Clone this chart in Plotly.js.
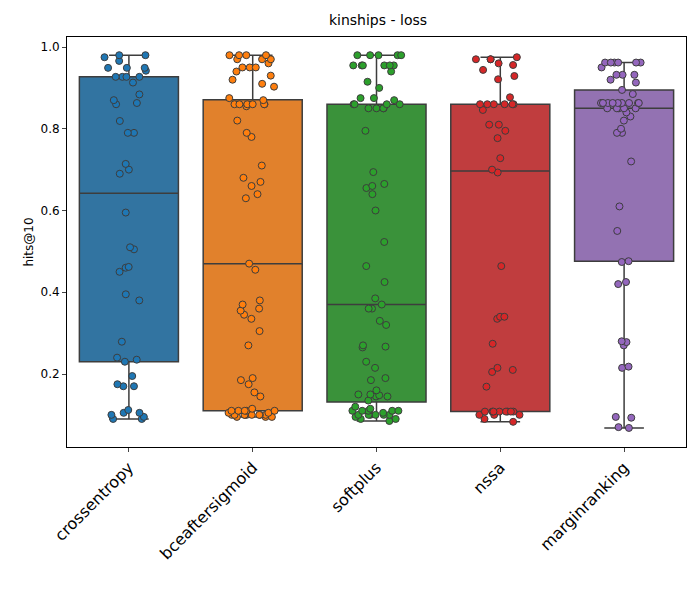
<!DOCTYPE html>
<html>
<head>
<meta charset="utf-8">
<script src="https://cdn.plot.ly/plotly-3.0.1.min.js"></script>
<style>body{margin:0;background:#fff}#chart{width:700px;height:600px}</style>
</head>
<body>
<div id="chart"></div>
<script>
const losses = ['crossentropy', 'bceaftersigmoid', 'softplus', 'nssa', 'marginranking'];
const crossentropy = [0.98, 0.975, 0.98, 0.966, 0.949, 0.949, 0.949, 0.942, 0.927, 0.927, 0.927, 0.927, 0.913,
    0.884, 0.87, 0.863, 0.86, 0.819, 0.79, 0.79, 0.714, 0.70, 0.69, 0.595, 0.51, 0.505, 0.462, 0.46, 0.45,
    0.395, 0.38, 0.279, 0.24, 0.235, 0.23, 0.195, 0.175, 0.17, 0.17, 0.112, 0.105, 0.105, 0.1, 0.095, 0.09, 0.09];
const bceaftersigmoid = [0.98, 0.98, 0.98, 0.98, 0.97, 0.97, 0.97, 0.96, 0.95, 0.95, 0.95, 0.94, 0.93, 0.92, 0.91,
    0.903, 0.875, 0.87, 0.86, 0.86, 0.86, 0.86, 0.86, 0.86, 0.855, 0.82, 0.79, 0.78, 0.71, 0.68, 0.67, 0.66,
    0.64, 0.63, 0.47, 0.455, 0.38, 0.37, 0.36, 0.355, 0.345, 0.335, 0.305, 0.27, 0.19, 0.185, 0.175, 0.155,
    0.145, 0.115, 0.11, 0.11, 0.11, 0.11, 0.11, 0.105, 0.105, 0.1, 0.1, 0.1, 0.1, 0.1, 0.1, 0.1, 0.1, 0.1,
    0.095, 0.095, 0.095];
const softplus = [0.98, 0.98, 0.98, 0.98, 0.98, 0.955, 0.955, 0.955, 0.955, 0.955, 0.955, 0.94, 0.915, 0.90,
    0.875, 0.875, 0.87, 0.86, 0.86, 0.86, 0.86, 0.85, 0.85, 0.85, 0.85, 0.795, 0.694, 0.665, 0.66, 0.655, 0.64,
    0.60, 0.523, 0.464, 0.425, 0.385, 0.37, 0.36, 0.36, 0.33, 0.32, 0.27, 0.267, 0.265, 0.23, 0.215, 0.19,
    0.185, 0.16, 0.15, 0.15, 0.148, 0.145, 0.145, 0.135, 0.12, 0.115, 0.11, 0.11, 0.11, 0.11, 0.11, 0.105,
    0.1, 0.1, 0.1, 0.1, 0.1, 0.1, 0.095, 0.09, 0.09, 0.085];
const nssa = [0.975, 0.97, 0.97, 0.97, 0.956, 0.96, 0.944, 0.929, 0.921, 0.877, 0.86, 0.86, 0.86, 0.86, 0.86,
    0.86, 0.846, 0.81, 0.81, 0.795, 0.777, 0.728, 0.70, 0.693, 0.464, 0.34, 0.34, 0.335, 0.274, 0.21, 0.205,
    0.215, 0.169, 0.108, 0.108, 0.108, 0.108, 0.108, 0.108, 0.108, 0.108, 0.1, 0.1, 0.1, 0.09, 0.083];
const marginranking = [0.962, 0.962, 0.962, 0.962, 0.962, 0.962, 0.95, 0.932, 0.932, 0.932, 0.92, 0.913, 0.895,
    0.885, 0.863, 0.863, 0.863, 0.863, 0.863, 0.863, 0.863, 0.863, 0.863, 0.85, 0.85, 0.85, 0.85, 0.85, 0.84,
    0.83, 0.82, 0.80, 0.79, 0.79, 0.72, 0.61, 0.55, 0.476, 0.474, 0.425, 0.42, 0.28, 0.278, 0.27, 0.218, 0.215,
    0.095, 0.093, 0.07, 0.068];
const values = [crossentropy, bceaftersigmoid, softplus, nssa, marginranking];
const boxColors = ['#3274a1', '#e1812c', '#3a923a', '#c03d3e', '#9372b2'];
const dotColors = ['#1f77b4', '#ff7f0e', '#2ca02c', '#d62728', '#9467bd'];

const data = losses.map((name, i) => ({
    type: 'box',
    name: name,
    x: values[i].map(() => name),
    y: values[i],
    boxpoints: 'all',
    jitter: 0.5,
    pointpos: 0,
    width: 0.8,
    whiskerwidth: 0.4,
    fillcolor: boxColors[i],
    line: {color: '#3d3d3d', width: 1.5},
    marker: {color: dotColors[i], size: 7, line: {color: '#3d3d3d', width: 1}},
    hoverinfo: 'y'
}));

const layout = {
    width: 700, height: 600,
    margin: {l: 67, r: 14, t: 37, b: 153},
    title: {text: 'kinships - loss', font: {family: 'DejaVu Sans', size: 14, color: '#000'}, x: 0.54, y: 0.975},
    showlegend: false,
    boxmode: 'overlay',
    font: {family: 'DejaVu Sans', color: '#000'},
    paper_bgcolor: '#fff', plot_bgcolor: '#fff',
    xaxis: {
        type: 'category', categoryarray: losses, tickangle: -45,
        tickfont: {size: 16}, ticks: 'outside', ticklen: 4,
        showline: true, mirror: true, linecolor: '#000', showgrid: false,
        range: [-0.5, 4.5]
    },
    yaxis: {
        title: {text: 'hits@10', font: {size: 12}},
        range: [0.0214, 1.0245], tickvals: [0.2, 0.4, 0.6, 0.8, 1.0], tickformat: '.1f',
        ticks: 'outside', ticklen: 4, tickfont: {size: 12},
        showline: true, mirror: true, linecolor: '#000', showgrid: false, zeroline: false
    }
};

Plotly.newPlot('chart', data, layout, {displayModeBar: false});
</script>
</body>
</html>
